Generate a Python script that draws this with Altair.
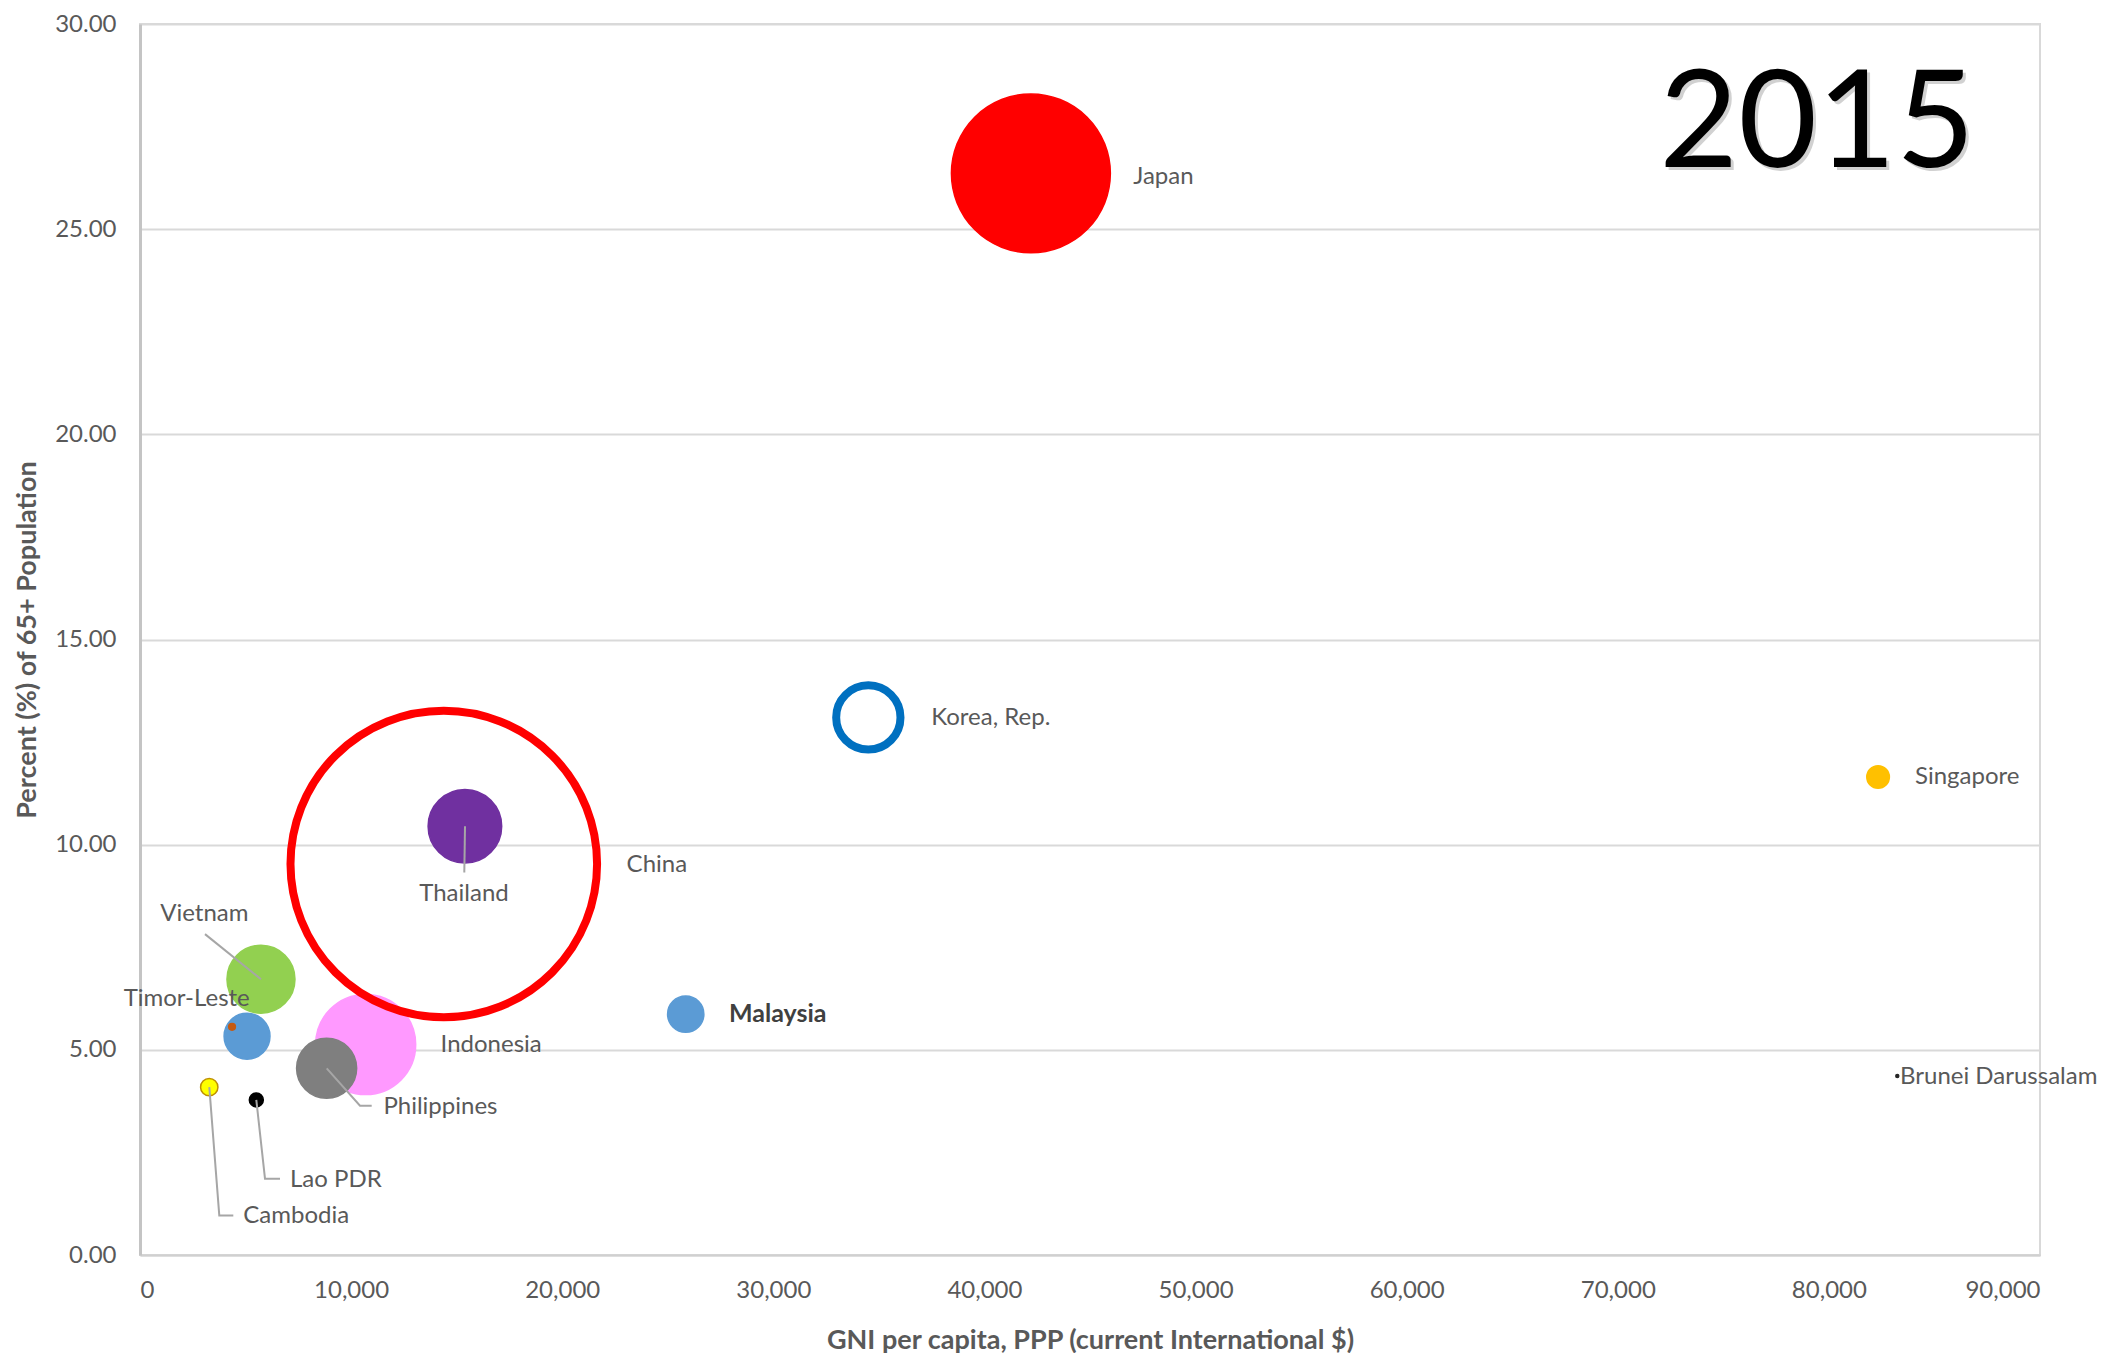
import altair as alt
import pandas as pd

# ---------------- data ----------------
countries = ["Japan", "Indonesia", "Philippines", "China", "Thailand", "Korea, Rep.",
             "Vietnam", "Myanmar", "Timor-Leste", "Cambodia", "Lao PDR", "Malaysia",
             "Singapore", "Brunei Darussalam"]
gni_ppp = [42200, 10690, 8840, 14390, 15390, 34500,
           5730, 5070, 4360, 3280, 5510, 25850,
           82330, 83240]
pct_65 = [26.36, 5.13, 4.55, 9.53, 10.45, 13.10,
          6.72, 5.33, 5.56, 4.09, 3.78, 5.87,
          11.65, 4.36]
# bubble size: 65+ population (millions)
pop_65 = [33.6, 13.3, 4.8, 125.0, 7.2, 5.5,
          6.15, 2.8, 0.06, 0.4, 0.26, 1.75,
          0.68, 0.012]
ring_countries = ["China", "Korea, Rep."]

fill_colors = ["#FF0000", "#FF99FF", "#7F7F7F", "#FF0000", "#7030A0", "#0070C0",
               "#92D050", "#5B9BD5", "#C55A11", "#FFFF00", "#000000", "#5B9BD5",
               "#FFC000", "#262626"]
stroke_colors = ["#FF0000", "#FF99FF", "#7F7F7F", "#FF0000", "#7030A0", "#0070C0",
                 "#92D050", "#5B9BD5", "#C55A11", "#BF9000", "#000000", "#5B9BD5",
                 "#FFC000", "#262626"]

# labels (annotation anchor positions in data units)
left_labels = ["Japan", "Korea, Rep.", "Singapore", "China", "Indonesia",
               "Philippines", "Lao PDR", "Cambodia", "Brunei Darussalam"]
left_label_x = [47050, 37480, 84080, 23050, 14240, 11530, 7105, 4894, 83370]
left_label_y = [26.27, 13.08, 11.64, 9.51, 5.12, 3.60, 1.83, 0.95, 4.35]

center_labels = ["Thailand", "Vietnam", "Timor-Leste"]
center_label_x = [15347, 3047, 2212]
center_label_y = [8.79, 8.30, 6.24]

bold_labels = ["Malaysia"]
bold_label_x = [27900]
bold_label_y = [5.87]

# leader lines
leader_country = ["Cambodia"] * 3 + ["Lao PDR"] * 3 + ["Philippines"] * 3 + ["Vietnam"] * 2 + ["Thailand"] * 2
leader_x = [3283, 3756, 4420, 5509, 5921, 6632, 8844, 10421, 10975, 5732, 3079, 15395, 15362]
leader_y = [4.09, 0.96, 0.96, 3.78, 1.86, 1.86, 4.55, 3.64, 3.64, 6.72, 7.82, 10.45, 9.32]
leader_seq = [0, 1, 2, 0, 1, 2, 0, 1, 2, 0, 1, 0, 1]

year_text = ["2015"]
year_x = [79440]
year_y = [26.51]

x_ticks = [0, 10000, 20000, 30000, 40000, 50000, 60000, 70000, 80000, 90000]
y_ticks = [0, 5, 10, 15, 20, 25, 30]

FONT = "Lato"
TEXT_GRAY = "#595959"
LABEL_SIZE = 24

bubbles = pd.DataFrame({
    "country": countries, "gni": gni_ppp, "pct": pct_65, "pop65": pop_65,
    "order": list(range(len(countries))),
})
filled_df = bubbles[~bubbles["country"].isin(ring_countries)]
ring_df = bubbles[bubbles["country"].isin(ring_countries)]

x_scale = alt.Scale(domain=[0, 90000], nice=False, zero=True)
y_scale = alt.Scale(domain=[0, 30], nice=False)
size_scale = alt.Scale(domain=[0, 125], range=[0, 752 * 125])
fill_scale = alt.Scale(domain=countries, range=fill_colors)
stroke_scale = alt.Scale(domain=countries, range=stroke_colors)

x_axis = alt.Axis(values=x_ticks, format=",.0f", title="GNI per capita, PPP (current International $)",
                  grid=False, ticks=False, labelPadding=23, titlePadding=25,
                  domainColor="#D0D0D0", domainWidth=2)
y_axis = alt.Axis(values=y_ticks, format=".2f", title="Percent (%) of 65+ Population",
                  grid=True, gridColor="#D9D9D9", gridWidth=2, ticks=False,
                  labelPadding=24, titlePadding=13, domainColor="#C4C4C4", domainWidth=3)

base_x = alt.X("gni:Q", scale=x_scale, axis=x_axis)
base_y = alt.Y("pct:Q", scale=y_scale, axis=y_axis)

filled = alt.Chart(filled_df).mark_circle(opacity=1, strokeWidth=1.5).encode(
    x=base_x, y=base_y,
    size=alt.Size("pop65:Q", scale=size_scale, legend=None),
    fill=alt.Fill("country:N", scale=fill_scale, legend=None),
    stroke=alt.Stroke("country:N", scale=stroke_scale, legend=None),
    order=alt.Order("order:Q"),
)

rings = alt.Chart(ring_df).mark_point(shape="circle", filled=False, opacity=1, strokeWidth=8).encode(
    x=alt.X("gni:Q", scale=x_scale),
    y=alt.Y("pct:Q", scale=y_scale),
    size=alt.Size("pop65:Q", scale=size_scale, legend=None),
    stroke=alt.Stroke("country:N", scale=stroke_scale, legend=None),
)

leaders_df = pd.DataFrame({"country": leader_country, "x": leader_x, "y": leader_y, "seq": leader_seq})
leaders = alt.Chart(leaders_df).mark_line(color="#A6A6A6", strokeWidth=2).encode(
    x=alt.X("x:Q", scale=x_scale),
    y=alt.Y("y:Q", scale=y_scale),
    detail="country:N",
    order="seq:Q",
)

left_df = pd.DataFrame({"label": left_labels, "x": left_label_x, "y": left_label_y})
left_text = alt.Chart(left_df).mark_text(align="left", baseline="middle", font=FONT,
                                         fontSize=LABEL_SIZE, color=TEXT_GRAY).encode(
    x=alt.X("x:Q", scale=x_scale), y=alt.Y("y:Q", scale=y_scale), text="label:N")

center_df = pd.DataFrame({"label": center_labels, "x": center_label_x, "y": center_label_y})
center_text = alt.Chart(center_df).mark_text(align="center", baseline="middle", font=FONT,
                                             fontSize=LABEL_SIZE, color=TEXT_GRAY).encode(
    x=alt.X("x:Q", scale=x_scale), y=alt.Y("y:Q", scale=y_scale), text="label:N")

bold_df = pd.DataFrame({"label": bold_labels, "x": bold_label_x, "y": bold_label_y})
bold_text = alt.Chart(bold_df).mark_text(align="left", baseline="middle", font=FONT,
                                         fontSize=25, fontWeight="bold", color="#404040").encode(
    x=alt.X("x:Q", scale=x_scale), y=alt.Y("y:Q", scale=y_scale), text="label:N")

year_df = pd.DataFrame({"label": year_text, "x": year_x, "y": year_y})
year_shadow = alt.Chart(year_df).mark_text(align="center", baseline="alphabetic", font=FONT,
                                           fontSize=136, color="#9A9A9A", opacity=0.45,
                                           dx=3, dy=3).encode(
    x=alt.X("x:Q", scale=x_scale), y=alt.Y("y:Q", scale=y_scale), text="label:N")
year_mark = alt.Chart(year_df).mark_text(align="center", baseline="alphabetic", font=FONT,
                                         fontSize=136, color="#000000").encode(
    x=alt.X("x:Q", scale=x_scale), y=alt.Y("y:Q", scale=y_scale), text="label:N")

chart = alt.layer(
    filled, rings, leaders, left_text, center_text, bold_text, year_shadow, year_mark
).properties(
    width=1900, height=1231,
    autosize=alt.AutoSizeParams(type="none"),
    padding={"left": 132, "top": 16, "right": 65, "bottom": 98},
    background="#FFFFFF",
).configure_view(
    stroke="#D9D9D9", strokeWidth=2
).configure_axis(
    labelFont=FONT, titleFont=FONT, labelFontSize=24, titleFontSize=27,
    labelColor=TEXT_GRAY, titleColor=TEXT_GRAY, titleFontWeight="bold",
)

chart.save("out.html", embed_options={"renderer": "svg", "actions": False})
